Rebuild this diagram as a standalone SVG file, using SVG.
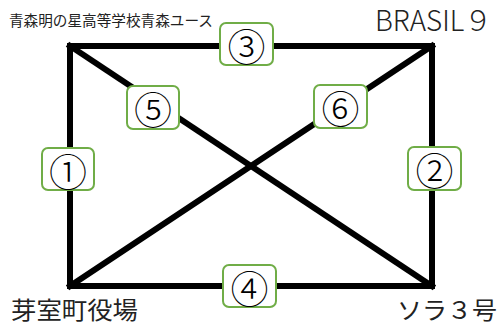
<svg xmlns="http://www.w3.org/2000/svg" width="500" height="325" viewBox="0 0 500 325">
<style>
.edge{stroke:#000;stroke-width:6;fill:none;stroke-linejoin:miter;stroke-linecap:square}
.box{fill:#fff;stroke:#70ad47;stroke-width:2}
.num{font-family:"Noto Sans CJK JP","DejaVu Sans",sans-serif;font-size:38px;font-weight:300;text-anchor:middle;dominant-baseline:central;fill:#000}
.lbl{font-family:"Noto Sans CJK JP","Noto Sans",sans-serif;fill:#222}
</style>
<rect width="500" height="325" fill="#fff"/>
<g id="connectors">
<rect class="edge" x="70" y="46" width="362" height="240"/>
<line class="edge" x1="70" y1="46" x2="432" y2="286" stroke-linecap="butt"/>
<line class="edge" x1="70" y1="286" x2="432" y2="46" stroke-linecap="butt"/>
</g>
<g id="n1"><rect class="box" x="42" y="148" width="52" height="42" rx="6"/><text class="num" x="68" y="169">①</text></g>
<g id="n2"><rect class="box" x="408" y="147" width="53" height="43" rx="6"/><text class="num" x="434.5" y="168.5">②</text></g>
<g id="n3"><rect class="box" x="220" y="23" width="53" height="42" rx="6"/><text class="num" x="246.5" y="44">③</text></g>
<g id="n4"><rect class="box" x="223" y="265" width="53" height="42" rx="6"/><text class="num" x="249.5" y="286">④</text></g>
<g id="n5"><rect class="box" x="127" y="86" width="52" height="43" rx="6"/><text class="num" x="153" y="107.5">⑤</text></g>
<g id="n6"><rect class="box" x="314" y="85" width="53" height="43" rx="6"/><text class="num" x="340.5" y="106.5">⑥</text></g>
<g id="labels">
<text class="lbl" x="9" y="26" font-size="14.5" textLength="204" lengthAdjust="spacingAndGlyphs">青森明の星高等学校青森ユース</text>
<text class="lbl" x="375" y="31" font-size="28" font-weight="200" textLength="117" lengthAdjust="spacingAndGlyphs">BRASIL９</text>
<text class="lbl" x="11" y="319" font-size="24" textLength="127" lengthAdjust="spacingAndGlyphs">芽室町役場</text>
<text class="lbl" x="397" y="319" font-size="24" textLength="100" lengthAdjust="spacingAndGlyphs">ソラ３号</text>
</g>
</svg>
